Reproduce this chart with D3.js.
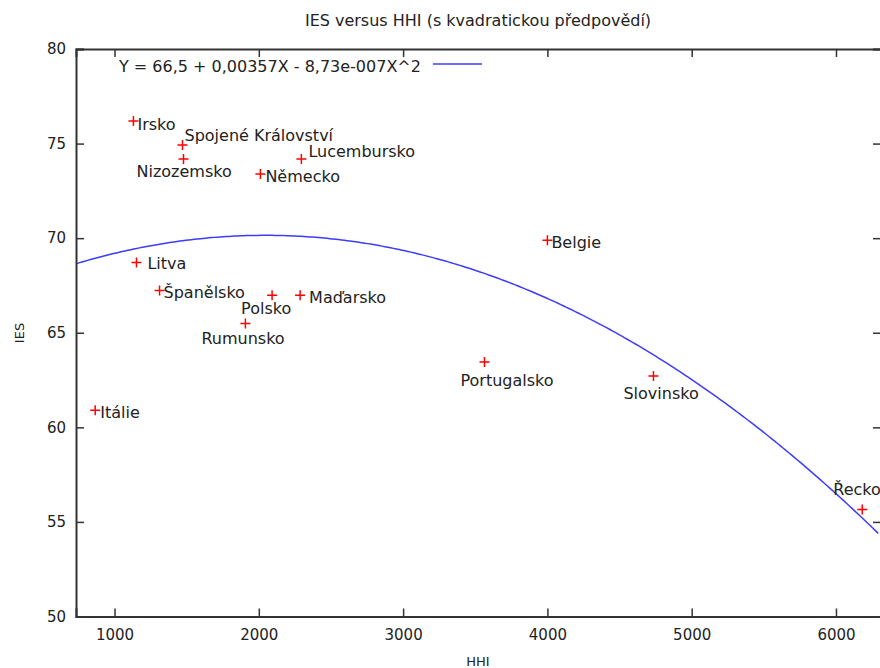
<!DOCTYPE html>
<html>
<head>
<meta charset="utf-8">
<script src="https://cdn.jsdelivr.net/npm/d3@7"></script>
<style>
html,body{margin:0;padding:0;background:#fff;}
svg{display:block;}
text{font-family:"DejaVu Sans",Verdana,sans-serif;fill:#222;}
</style>
</head>
<body>
<svg id="chart" width="880" height="668"></svg>
<script>
// ---- data ----
const countries = ["Irsko","Spojené Království","Nizozemsko","Německo","Lucembursko","Litva","Španělsko","Polsko","Maďarsko","Rumunsko","Itálie","Belgie","Portugalsko","Slovinsko","Řecko"];
const hhi = [1131, 1471, 1478, 2011, 2295, 1152, 1312, 2092, 2286, 1907, 866, 4000, 3564, 4735, 6182];
const ies = [76.19, 74.92, 74.18, 73.39, 74.18, 68.71, 67.23, 66.98, 66.98, 65.49, 60.90, 69.89, 63.45, 62.71, 55.65];
const xTicks = [1000, 2000, 3000, 4000, 5000, 6000];
const yTicks = [50, 55, 60, 65, 70, 75, 80];
// quadratic fit coefficients from the legend: Y = a + bX + cX^2
const fitCoef = [66.5, 0.00357, -8.73e-7];
const fitLabel = "Y = 66,5 + 0,00357X - 8,73e-007X^2";
const titleText = "IES versus HHI (s kvadratickou předpovědí)";
const xLabel = "HHI", yLabel = "IES";
// label placement offsets (px) relative to marker: [dx to text start, dy to text centre]
const labelOffsets = [[4,3],[2,-10],[-47,12],[5,2],[7,-8],[11,1],[4,2],[-31,13],[9,2],[-44,15],[5,2],[4,2],[-24,18],[-30,17],[-29,-20]];

// ---- layout ----
const svg = d3.select("#chart");
const L = 76, R = 881, T = 49, B = 616.5;
const x = d3.scaleLinear().domain([733, 6312]).range([L, R]);
const y = d3.scaleLinear().domain([50, 80]).range([B, T]);
const axisColor = "#333";

// title
svg.append("text").attr("x", 478).attr("y", 20).attr("text-anchor","middle")
  .attr("dominant-baseline","central").style("font-size","16px").text(titleText);

// axis labels
svg.append("text").attr("x", 478).attr("y", 661).attr("text-anchor","middle")
  .attr("dominant-baseline","central").style("font-size","13px").text(xLabel);
svg.append("text").attr("transform","translate(19,333) rotate(-90)").attr("text-anchor","middle")
  .attr("dominant-baseline","central").style("font-size","13px").text(yLabel);

// clip
svg.append("clipPath").attr("id","clip").append("rect").attr("x",L).attr("y",T).attr("width",R-L).attr("height",B-T);

// fitted curve
const fit = v => fitCoef[0] + fitCoef[1]*v + fitCoef[2]*v*v;
const xs = d3.range(x.domain()[0], x.domain()[1] + 1, 20);
svg.append("path").attr("clip-path","url(#clip)")
  .datum(xs)
  .attr("fill","none").attr("stroke","#3c3cff").attr("stroke-width",1.5)
  .attr("d", d3.line().x(d => x(d)).y(d => y(fit(d))));

// frame axes
const gx = svg.append("g").attr("transform",`translate(0,${B})`)
  .call(d3.axisBottom(x).tickValues(xTicks).tickSize(-8).tickPadding(13).tickFormat(d3.format("d")));
const gxt = svg.append("g").attr("transform",`translate(0,${T})`)
  .call(d3.axisTop(x).tickValues(xTicks).tickSize(-8).tickFormat(""));
const gy = svg.append("g").attr("transform",`translate(${L},0)`)
  .call(d3.axisLeft(y).tickValues(yTicks).tickSize(-8).tickPadding(10).tickFormat(d3.format("d")));
const gyr = svg.append("g").attr("transform",`translate(${R},0)`)
  .call(d3.axisRight(y).tickValues(yTicks).tickSize(-8).tickFormat(""));
[gx,gxt,gy,gyr].forEach(g=>{
  g.select(".domain").attr("stroke",axisColor).attr("stroke-width",2);
  g.selectAll(".tick line").attr("stroke",axisColor).attr("stroke-width",1.5);
  g.selectAll(".tick text").style("font-size","15px").style("font-family","DejaVu Sans, sans-serif").attr("fill","#333");
});

// legend
svg.append("text").attr("x", 119).attr("y", 66).attr("dominant-baseline","central")
  .style("font-size","16px").text(fitLabel);
svg.append("line").attr("x1",433).attr("x2",482).attr("y1",64).attr("y2",64)
  .attr("stroke","#3c3cff").attr("stroke-width",1.5);

// points
const pts = svg.append("g");
const ms = 5;
countries.forEach((c,i)=>{
  const px = x(hhi[i]), py = y(ies[i]);
  pts.append("path").attr("d",`M${px-ms},${py}H${px+ms}M${px},${py-ms}V${py+ms}`)
    .attr("stroke","#ff0000").attr("stroke-width",1.5).attr("fill","none");
  pts.append("text").attr("x",px+labelOffsets[i][0]).attr("y",py+labelOffsets[i][1])
    .attr("dominant-baseline","central").style("font-size","16px").text(c);
});
</script>
</body>
</html>
